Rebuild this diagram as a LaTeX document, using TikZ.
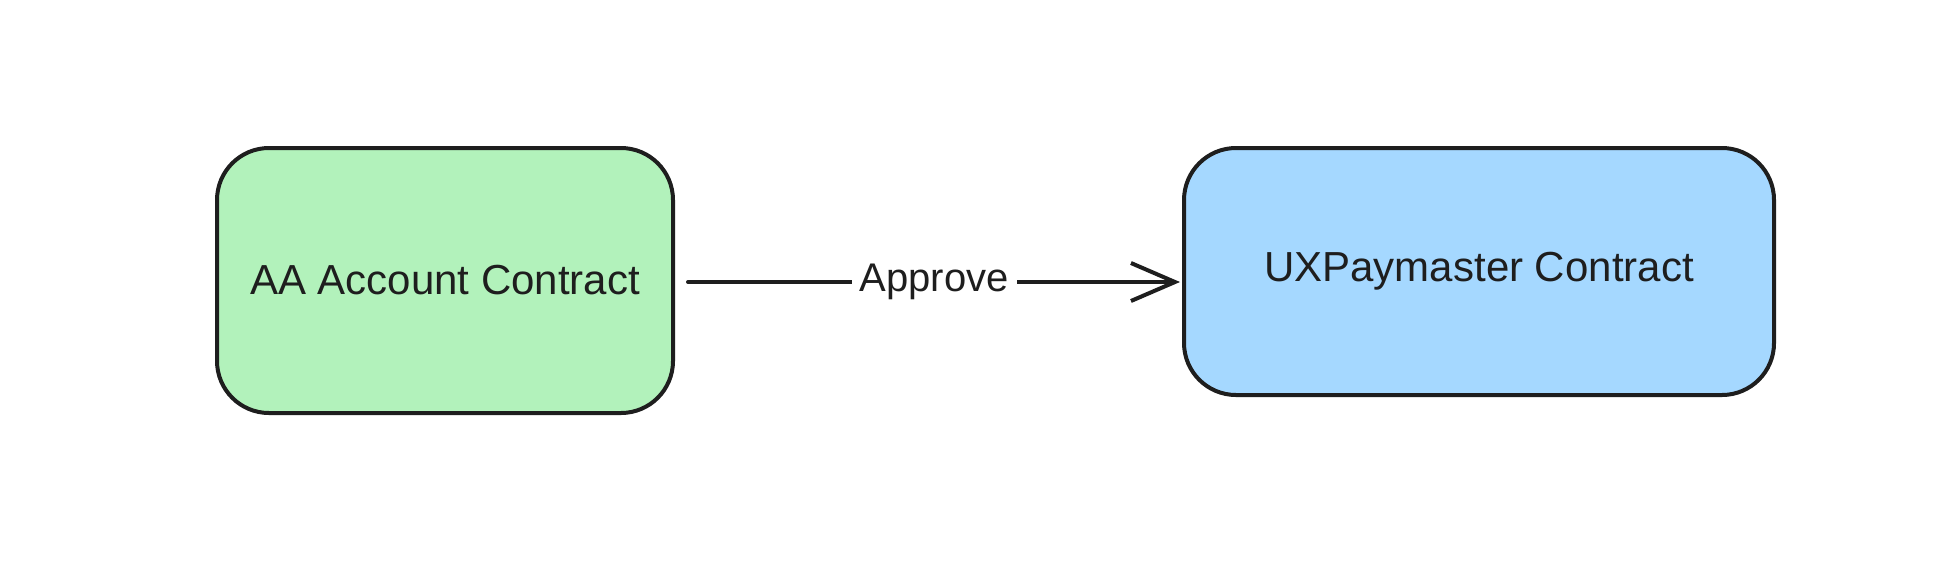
\documentclass[tikz,border=0pt]{standalone}
\usepackage{fontspec}
\setmainfont{Liberation Sans}
\usetikzlibrary{arrows.meta}
\definecolor{ink}{HTML}{1E1E1E}
\definecolor{gfill}{HTML}{B2F2BB}
\definecolor{bfill}{HTML}{A5D8FF}
\tikzset{
  boxnode/.style={draw=ink, line width=4pt, rounded corners=52pt, text=ink,
    font=\fontsize{42}{50}\selectfont, inner sep=0pt},
  arr/.style={draw=ink, line width=4pt, line cap=round,
    -{Straight Barb[length=44pt,width=38pt,line width=4pt]}},
  lbl/.style={fill=white, text=ink, font=\fontsize{40}{48}\selectfont, inner xsep=8pt}
}
\begin{document}
\begin{tikzpicture}[x=1pt,y=-1pt]
\useasboundingbox (0,0) rectangle (1934,566);
\node[boxnode, fill=gfill, minimum width=456pt, minimum height=265pt] (a) at (445,280.5) {AA Account Contract};
\node[boxnode, fill=bfill, minimum width=590pt, minimum height=247pt] (b) at (1479,271.5) {UXPaymaster Contract};
\draw[arr] ([xshift=13pt,yshift=-1.5pt]a.east) -- node[lbl] (l) {Approve} ([xshift=-2pt,yshift=-10.5pt]b.west);
\end{tikzpicture}
\end{document}
